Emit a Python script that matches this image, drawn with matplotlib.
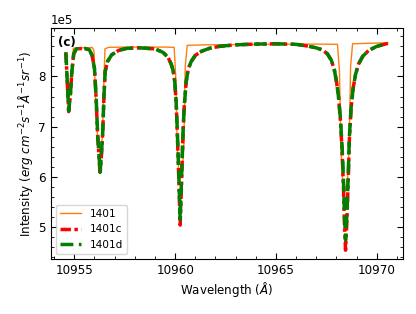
import numpy as np
import matplotlib
matplotlib.use("Agg")
import matplotlib.pyplot as plt
from matplotlib.ticker import MultipleLocator

# values (intensity in units of 1e5)
wl_1401 = [10954.92, 10954.95, 10955.1, 10955.5, 10955.9, 10955.98, 10956.05, 10956.15,
           10956.28, 10956.4, 10956.46, 10956.52, 10956.7, 10957.5, 10958.5, 10959.5,
           10959.95, 10960.03, 10960.1, 10960.18, 10960.26, 10960.35, 10960.43, 10960.5,
           10960.6, 10961.5, 10963, 10965, 10967, 10968.05, 10968.15, 10968.22, 10968.3,
           10968.43, 10968.55, 10968.63, 10968.7, 10968.8, 10969.5, 10970.55]
int_1401 = [8.35, 8.56, 8.57, 8.57, 8.575, 8.5, 7.6, 6.8,
            6.5, 6.8, 7.8, 8.55, 8.58, 8.585, 8.585, 8.585,
            8.58, 8.0, 6.6, 6.1, 5.97, 6.1, 6.6, 8.2,
            8.62, 8.63, 8.635, 8.64, 8.645, 8.64, 8.1, 6.6, 5.95,
            5.73, 5.95, 6.6, 8.2, 8.65, 8.66, 8.67]

wl_1401d = [10954.58, 10954.65, 10954.72, 10954.8, 10954.88, 10954.97, 10955.1, 10955.5,
            10955.75, 10955.88, 10956.0, 10956.08, 10956.16, 10956.28, 10956.35, 10956.41,
            10956.47, 10956.53, 10956.65, 10956.85, 10957.2, 10957.6, 10958.2,
            10959.0, 10959.4, 10959.65, 10959.8, 10959.9, 10959.98, 10960.05, 10960.1,
            10960.17, 10960.25, 10960.32, 10960.38, 10960.45, 10960.55, 10960.65, 10960.8,
            10961.0, 10961.3, 10961.7, 10962.2, 10963, 10964, 10965, 10966, 10966.5,
            10967.0, 10967.3, 10967.55, 10967.75, 10967.9, 10968.0, 10968.1, 10968.2,
            10968.28, 10968.35, 10968.4, 10968.45, 10968.52, 10968.58, 10968.64, 10968.72,
            10968.82, 10968.95, 10969.1, 10969.3, 10969.6, 10970.0, 10970.55]
int_1401d = [8.48, 7.9, 7.32, 7.6, 8.1, 8.45, 8.55, 8.56,
             8.53, 8.42, 8.16, 7.6, 6.83, 6.09, 6.5, 6.9,
             7.6, 8.1, 8.3, 8.43, 8.52, 8.56, 8.57,
             8.55, 8.48, 8.38, 8.25, 8.12, 7.9, 7.5, 7.0,
             6.2, 5.15, 6.0, 6.8, 7.4, 7.9, 8.15, 8.3,
             8.42, 8.5, 8.56, 8.6, 8.63, 8.645, 8.65, 8.64, 8.61,
             8.57, 8.53, 8.45, 8.32, 8.12, 7.9, 7.6, 7.15,
             6.6, 5.9, 5.2, 4.74, 5.3, 6.0, 6.8, 7.35,
             7.75, 8.05, 8.25, 8.4, 8.52, 8.6, 8.66]
int_1401c = [8.48, 7.9, 7.3, 7.6, 8.1, 8.45, 8.55, 8.56,
             8.53, 8.42, 8.16, 7.58, 6.8, 6.05, 6.47, 6.88,
             7.6, 8.1, 8.3, 8.43, 8.52, 8.56, 8.57,
             8.55, 8.48, 8.38, 8.25, 8.12, 7.9, 7.48, 6.95,
             6.1, 5.04, 5.9, 6.75, 7.4, 7.9, 8.15, 8.3,
             8.42, 8.5, 8.56, 8.6, 8.63, 8.645, 8.65, 8.64, 8.61,
             8.57, 8.53, 8.45, 8.32, 8.12, 7.9, 7.6, 7.1,
             6.5, 5.75, 5.0, 4.54, 5.15, 5.9, 6.75, 7.33,
             7.75, 8.05, 8.25, 8.4, 8.52, 8.6, 8.66]

plt.rcParams["font.size"] = 8.6

fig = plt.figure(figsize=(4.16, 3.14), dpi=100)
ax = fig.add_axes([0.1219, 0.1744, 0.8469, 0.7372])

ax.plot(wl_1401, np.array(int_1401) * 1e5, color="#ff7f0e", lw=1.0, label="1401")
ax.plot(wl_1401d, np.array(int_1401c) * 1e5, color="red", lw=2.5,
        dashes=(3, 1, 1, 1, 1, 1), label="1401c")
ax.plot(wl_1401d, np.array(int_1401d) * 1e5, color="green", lw=2.5,
        ls="--", label="1401d")

ax.set_xlim(10953.83, 10971.3)
ax.set_ylim(4.36e5, 8.97e5)
ax.xaxis.set_major_locator(MultipleLocator(5))
ax.xaxis.set_minor_locator(MultipleLocator(1))
ax.yaxis.set_major_locator(MultipleLocator(1e5))
ax.yaxis.set_minor_locator(MultipleLocator(0.2e5))
ax.ticklabel_format(axis="y", style="sci", scilimits=(0, 0))
ax.ticklabel_format(axis="x", useOffset=False, style="plain")
ax.tick_params(which="both", direction="in", top=True, right=True)
ax.tick_params(which="major", length=4)
ax.tick_params(which="minor", length=2)

ax.set_xlabel(r"Wavelength ($\AA$)", labelpad=2)
ax.set_ylabel(r"Intensity ($erg\ cm^{-2}s^{-1}\AA^{-1}sr^{-1}$)", labelpad=2)
ax.text(0.02, 0.965, "(c)", transform=ax.transAxes, fontweight="bold", va="top")
ax.legend(loc="lower left", fontsize=7.6)

plt.savefig("out.png")
